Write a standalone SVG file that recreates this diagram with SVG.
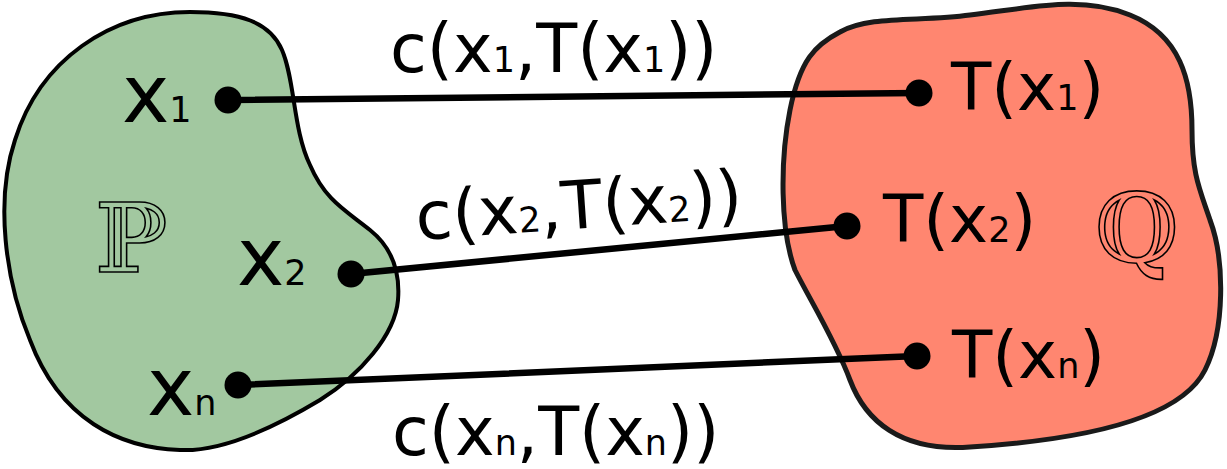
<svg xmlns="http://www.w3.org/2000/svg" width="1227" height="469" viewBox="0 0 1227 469">
<style>
.lbl{font-family:"DejaVu Sans","Verdana",sans-serif;fill:#000}
.sub{font-size:35px}
.dot{fill:#000}
.conn{stroke:#000;stroke-width:6.5;fill:none;stroke-linecap:round}
.bb{font-family:"DejaVu Serif","DejaVu Sans",serif;fill:none;stroke:#000;stroke-width:1.6}
</style>
<rect width="1227" height="469" fill="#fff"/>
<g id="P">
<path d="M190,12 C240,12 270,22 282,50 C295,80 293,130 310,165 C325,200 345,210 370,230 C395,250 400,275 398,300 C395,335 360,375 320,400 C270,430 220,452 180,450 C120,448 60,420 30,340 C5,280 -5,200 15,140 C40,60 110,12 190,12 Z" fill="#a2c8a0" stroke="#000" stroke-width="4"/>
<text class="bb" x="95" y="272" font-size="96">ℙ</text>
</g>
<g id="Q">
<path d="M840,32 C870,15 920,22 970,15 C1030,8 1080,-5 1130,15 C1180,35 1192,80 1192,130 C1192,175 1200,190 1210,220 C1225,260 1225,330 1205,370 C1180,420 1080,440 970,447 C900,452 865,420 850,380 C835,340 810,300 795,270 C780,230 780,160 790,110 C800,60 815,45 840,32 Z" fill="#ff8670" stroke="#1a1a1a" stroke-width="5"/>
<text class="bb" x="1095" y="262" font-size="96">ℚ</text>
</g>
<g id="connectors">
<line class="conn" x1="228" y1="100" x2="919" y2="93"/>
<line class="conn" x1="351" y1="274" x2="847" y2="226"/>
<line class="conn" x1="238" y1="385" x2="917" y2="356"/>
</g>
<g id="x1">
<circle class="dot" cx="228" cy="100" r="13.5"/>
<text class="lbl" x="122" y="122" font-size="80">x<tspan class="sub">1</tspan></text>
</g>
<g id="x2">
<circle class="dot" cx="351" cy="274" r="13.5"/>
<text class="lbl" x="237" y="285" font-size="80">x<tspan class="sub">2</tspan></text>
</g>
<g id="xn">
<circle class="dot" cx="238" cy="385" r="13.5"/>
<text class="lbl" x="147" y="415" font-size="80">x<tspan class="sub">n</tspan></text>
</g>
<g id="Tx1">
<circle class="dot" cx="919" cy="93" r="13.5"/>
<text class="lbl" x="951" y="110" font-size="66">T(x<tspan class="sub">1</tspan>)</text>
</g>
<g id="Tx2">
<circle class="dot" cx="847" cy="226" r="13.5"/>
<text class="lbl" x="883" y="242" font-size="66">T(x<tspan class="sub">2</tspan>)</text>
</g>
<g id="Txn">
<circle class="dot" cx="917" cy="356" r="13.5"/>
<text class="lbl" x="952" y="378" font-size="66">T(x<tspan class="sub">n</tspan>)</text>
</g>
<g id="labels">
<text class="lbl" x="390" y="72" font-size="67">c(x<tspan class="sub">1</tspan>,T(x<tspan class="sub">1</tspan>))</text>
<text class="lbl" transform="translate(417,240) rotate(-4)" font-size="67">c(x<tspan class="sub">2</tspan>,T(x<tspan class="sub">2</tspan>))</text>
<text class="lbl" x="392" y="455" font-size="67">c(x<tspan class="sub">n</tspan>,T(x<tspan class="sub">n</tspan>))</text>
</g>
</svg>
